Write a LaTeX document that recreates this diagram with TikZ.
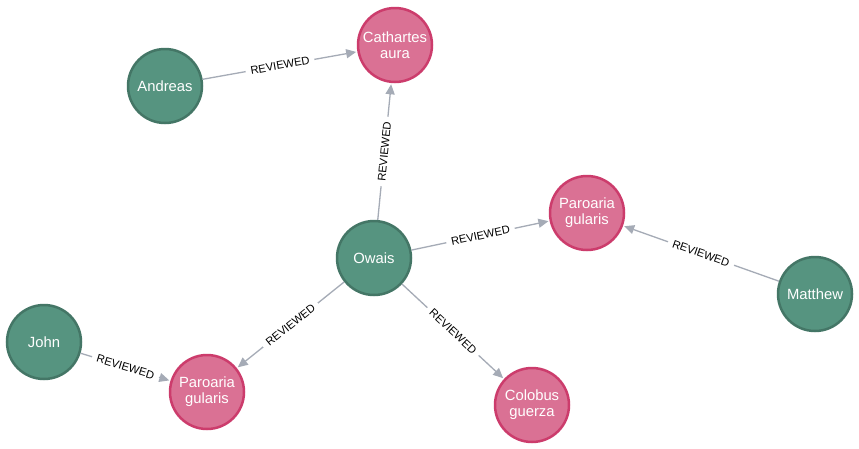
\documentclass[tikz,border=0pt]{standalone}
\usepackage{fontspec}
\setmainfont{Liberation Sans}
\usetikzlibrary{arrows.meta}

\definecolor{personfill}{HTML}{569480}
\definecolor{personline}{HTML}{447666}
\definecolor{speciesfill}{HTML}{DA7194}
\definecolor{speciesline}{HTML}{CC3C6C}
\definecolor{relline}{HTML}{A5ABB6}

\tikzset{
  entity/.style={circle, minimum size=74pt, inner sep=0pt, line width=2.5pt,
    align=center, text=white, font=\fontsize{14.8}{16}\selectfont},
  person/.style={entity, fill=personfill, draw=personline},
  species/.style={entity, fill=speciesfill, draw=speciesline},
  rel/.style={draw=relline, line width=1.3pt, shorten >=1.2pt,
    -{Triangle[length=10pt,width=9pt]}},
  rellabel/.style={midway, sloped, fill=white, inner xsep=5pt, inner ysep=1pt,
    text=black, font=\fontsize{11.2}{12}\selectfont}
}

\begin{document}
\begin{tikzpicture}[x=1pt,y=-1pt]
  \useasboundingbox[fill=white] (0,0) rectangle (859,448);

  % people
  \node[person]  (andreas) at (165,86)  {Andreas};
  \node[person]  (owais)   at (374,258) {Owais};
  \node[person]  (matthew) at (815,294) {Matthew};
  \node[person]  (john)    at (44,342)  {John};

  % species
  \node[species] (cathartes) at (395,45)  {Cathartes\\aura};
  \node[species] (paroariaA) at (587,213) {Paroaria\\gularis};
  \node[species] (paroariaB) at (207,392) {Paroaria\\gularis};
  \node[species] (colobus)   at (532,405) {Colobus\\guerza};

  % reviews
  \draw[rel] (andreas) -- (cathartes) node[rellabel] {REVIEWED};
  \draw[rel] (owais)   -- (cathartes) node[rellabel] {REVIEWED};
  \draw[rel] (owais)   -- (paroariaA) node[rellabel] {REVIEWED};
  \draw[rel] (matthew) -- (paroariaA) node[rellabel] {REVIEWED};
  \draw[rel] (owais)   -- (paroariaB) node[rellabel] {REVIEWED};
  \draw[rel] (john)    -- (paroariaB) node[rellabel] {REVIEWED};
  \draw[rel] (owais)   -- (colobus)   node[rellabel] {REVIEWED};
\end{tikzpicture}
\end{document}
